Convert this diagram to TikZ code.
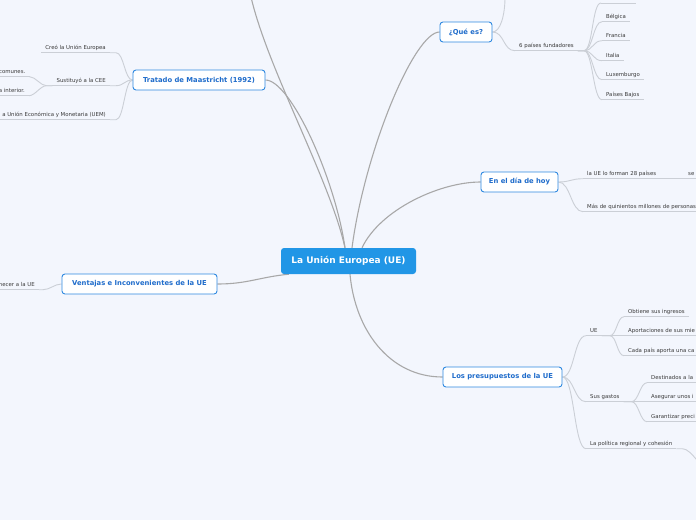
\documentclass[tikz,border=0pt]{standalone}
\usepackage{fontspec}
\setmainfont{DejaVu Sans}
\pgfdeclarelayer{back}
\pgfsetlayers{back,main}
\definecolor{bgc}{HTML}{F3F6FD}
\definecolor{rootblue}{HTML}{2196E6}
\definecolor{topicborder}{HTML}{2E88E0}
\definecolor{topictext}{HTML}{1F6CCB}
\definecolor{mainline}{HTML}{A8A8A8}
\definecolor{sublinec}{HTML}{CBCFD6}
\definecolor{subtext}{HTML}{3A3A3A}
\tikzset{
  rootnode/.style={rectangle, rounded corners=3pt, fill=rootblue, text=white,
    font=\bfseries\fontsize{9}{11}\selectfont, inner sep=0pt,
    minimum width=135pt, minimum height=26pt},
  topicnode/.style={rectangle, rounded corners=3pt, draw=topicborder, line width=0.9pt,
    fill=white, text=topictext, font=\bfseries\fontsize{6.8}{8}\selectfont,
    inner sep=0pt, minimum height=20pt},
  subnode/.style={inner xsep=4pt, inner ysep=2pt, text height=4.2pt, text depth=1.5pt,
    text=subtext, font=\fontsize{5.4}{6.5}\selectfont},
  rsub/.style={subnode, anchor=base west},
  lsub/.style={subnode, anchor=base east},
  cutsub/.style={rsub, text width=200pt, align=left},
  mainconn/.style={draw=mainline, line width=1.1pt},
  subconn/.style={draw=sublinec, line width=0.9pt},
}
\begin{document}
\begin{tikzpicture}[x=1pt,y=-1pt]
\useasboundingbox (0,0) rectangle (696,520);
\begin{pgfonlayer}{back}
\fill[bgc] (0,0) rectangle (696,520);
\end{pgfonlayer}

% main nodes
\node[rootnode] (root) at (348.5,261) {La Unión Europea (UE)};
\node[topicnode, minimum width=52pt] (que) at (466,32) {¿Qué es?};
\node[topicnode, minimum width=132pt] (trat) at (199,80) {Tratado de Maastricht (1992)};
\node[topicnode, minimum width=77pt] (dia) at (519.5,182) {En el día de hoy};
\node[topicnode, minimum width=155pt] (vent) at (139.5,284) {Ventajas e Inconvenientes de la UE};
\node[topicnode, minimum width=119pt] (pres) at (502.5,377) {Los presupuestos de la UE};
\coordinate (ttop) at (251,-3);

% Tratado
\node[lsub] (s1) at (110,49) {Creó la Unión Europea};
\node[lsub] (s2) at (110,82) {Sustituyó a la CEE};
\node[lsub] (s3) at (110,116) {a Unión Económica y Monetaria (UEM)};
\node[lsub] (c1) at (29.5,73) {comunes.};
\node[lsub] (c2) at (29,92) {a interior.};
% Ventajas
\node[lsub] (v1) at (39,286) {necer a la UE};
% Que es
\coordinate (qtop) at (505,-3);
\node[rsub] (q1) at (515,47) {6 países fundadores};
\coordinate (q0a) at (601,3);
\coordinate (q0b) at (636,3);
\node[rsub] (q2) at (602,18) {Bélgica};
\node[rsub] (q3) at (602,37) {Francia};
\node[rsub] (q4) at (602,57) {Italia};
\node[rsub] (q5) at (602,76) {Luxemburgo};
\node[rsub] (q6) at (602,96) {Países Bajos};
% En el dia
\node[rsub] (e1) at (583,175) {la UE lo forman 28 países};
\node[cutsub] (e3) at (684,175) {se};
\node[cutsub] (e2) at (583,208) {Más de quinientos millones de personas};
% Presupuestos
\node[rsub] (p1) at (586,332) {UE};
\node[rsub] (p2) at (586,398) {Sus gastos};
\node[rsub] (p3) at (586,445) {La política regional y cohesión};
\node[rsub] (p11) at (624,313) {Obtiene sus ingresos};
\node[cutsub] (p12) at (624,332) {Aportaciones de sus mie};
\node[cutsub] (p13) at (624,352) {Cada país aporta una ca};
\node[cutsub] (p21) at (647,379) {Destinados a la};
\node[cutsub] (p22) at (647,398) {Asegurar unos i};
\node[cutsub] (p23) at (647,418) {Garantizar preci};
\coordinate (pc) at (712,472);

\begin{pgfonlayer}{back}
% underlines
\foreach \n in {s1,s2,s3,c1,c2,v1,q1,q2,q3,q4,q5,q6,e1,e2,e3,p1,p2,p3,p11,p12,p13,p21,p22,p23}
  \draw[subconn] (\n.south west) -- (\n.south east);
\draw[subconn] (q0a) -- (q0b);
% main connectors
\draw[mainconn] (ttop) .. controls +(17,73) and +(-15,-68) .. ([xshift=-3.5pt]root.north);
\draw[mainconn] (trat.east) .. controls +(25,0) and +(-10,-70) .. ([xshift=-3.5pt]root.north);
\draw[mainconn] (que.west) .. controls +(-25,0) and +(13,-98) .. ([xshift=3.5pt]root.north);
\draw[mainconn] (dia.west) .. controls +(-41,0) and +(18,-38) .. ([xshift=13.5pt]root.north);
\draw[mainconn] (vent.east) .. controls +(30,0) and +(-30,3) .. ([xshift=8pt]root.south west);
\draw[mainconn] ([xshift=1.5pt]root.south) .. controls +(5,56) and +(-53,0) .. (pres.west);
% Tratado branch
\foreach \n in {s1,s2,s3}
  \draw[subconn] (\n.south east) -- ++(6,0) .. controls +(8,0) and +(-8,0) .. (trat.west);
\foreach \n in {c1,c2}
  \draw[subconn] (s2.south west) -- ++(-6,0) .. controls +(-6,0) and +(6,0) .. (\n.south east);
% Ventajas
\draw[subconn] (v1.south east) -- ++(4,0) .. controls +(7,0) and +(-7,0) .. (vent.west);
% Que es
\draw[subconn] (que.east) .. controls +(8,0) and +(0,18) .. (qtop);
\draw[subconn] (que.east) .. controls +(12,0) and +(-12,0) .. (q1.south west);
\foreach \t in {q0a,q2.south west,q3.south west,q4.south west,q5.south west,q6.south west}
  \draw[subconn] (q1.south east) -- ++(6,0) .. controls +(9,0) and +(-9,0) .. (\t);
% En el dia
\foreach \n in {e1,e2}
  \draw[subconn] (dia.east) .. controls +(12,0) and +(-12,0) .. (\n.south west);
\draw[subconn] (e1.south east) -- (e3.south west);
% Presupuestos
\foreach \n in {p1,p2,p3}
  \draw[subconn] (pres.east) .. controls +(12,0) and +(-12,0) .. (\n.south west);
\foreach \n in {p11,p12,p13}
  \draw[subconn] (p1.south east) -- ++(8,0) .. controls +(7,0) and +(-7,0) .. (\n.south west);
\foreach \n in {p21,p22,p23}
  \draw[subconn] (p2.south east) -- ++(8,0) .. controls +(7,0) and +(-7,0) .. (\n.south west);
\draw[subconn] (p3.south east) -- ++(6,0) .. controls +(10,0) and +(-10,0) .. (pc);
\end{pgfonlayer}
\end{tikzpicture}
\end{document}
